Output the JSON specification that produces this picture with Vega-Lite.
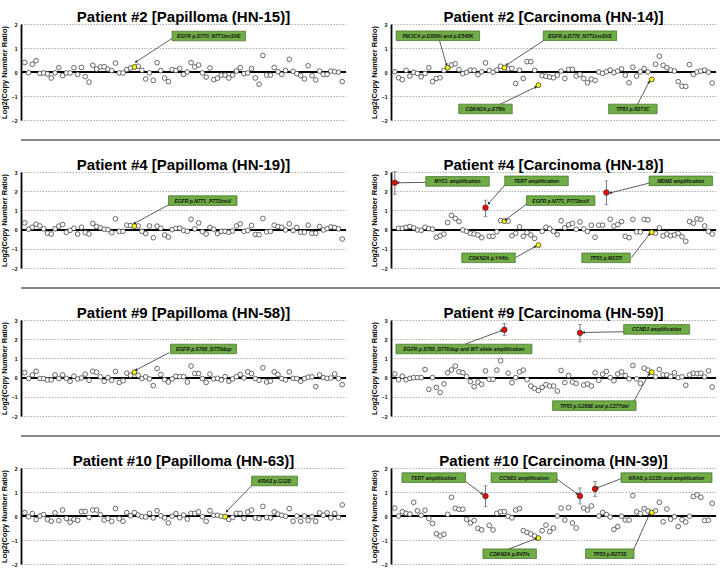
{
"$schema": "https://vega.github.io/schema/vega-lite/v6.json",
"padding": {"left": 0, "top": 9, "right": 0, "bottom": 0},
"background": "white",
"config": {
  "view": {"stroke": null},
  "font": "Liberation Sans",
  "title": {"font": "Liberation Sans", "fontSize": 15, "fontWeight": "bold", "color": "black", "offset": -2.8},
  "axis": {"labelFont": "Liberation Sans", "labelFontSize": 5, "labelFontWeight": "bold", "labelColor": "black", "labelPadding": 4, "ticks": false, "tickSize": 0, "domainColor": "black", "domainWidth": 1.8, "grid": true, "gridColor": "#999", "gridDash": [1.5, 1.5], "gridWidth": 0.8, "titleFont": "Liberation Sans", "titleFontSize": 7.5, "titleFontWeight": "bold", "titleColor": "black", "titlePadding": 3}
},
"datasets": {
"p1": [{"i":1,"v":0.40},{"i":2,"v":-0.03},{"i":3,"v":0.32},{"i":4,"v":0.47},{"i":5,"v":-0.06},{"i":6,"v":-0.04},{"i":7,"v":-0.08},{"i":8,"v":-0.25},{"i":9,"v":-0.04},{"i":10,"v":0.18},{"i":11,"v":-0.15},{"i":12,"v":-0.04},{"i":13,"v":-0.04},{"i":14,"v":0.18},{"i":15,"v":-0.10},{"i":16,"v":0.19},{"i":17,"v":-0.19},{"i":18,"v":-0.42},{"i":19,"v":0.28},{"i":20,"v":0.12},{"i":21,"v":0.21},{"i":22,"v":0.22},{"i":23,"v":0.12},{"i":24,"v":0.06},{"i":25,"v":0.37},{"i":26,"v":-0.04},{"i":27,"v":-0.04},{"i":28,"v":0.10},{"i":29,"v":0.17},{"i":30,"v":0.21,"k":"m"},{"i":31,"v":0.24},{"i":32,"v":0.07},{"i":33,"v":-0.29},{"i":34,"v":-0.04},{"i":35,"v":-0.35},{"i":36,"v":0.39},{"i":37,"v":0.06},{"i":38,"v":-0.25},{"i":39,"v":-0.40},{"i":40,"v":0.10},{"i":41,"v":0.06},{"i":42,"v":0.15},{"i":43,"v":-0.10},{"i":44,"v":0.00},{"i":45,"v":0.39},{"i":46,"v":0.21},{"i":47,"v":0.29},{"i":48,"v":-0.04},{"i":49,"v":-0.21},{"i":50,"v":0.17},{"i":51,"v":-0.32},{"i":52,"v":-0.26},{"i":53,"v":-0.13},{"i":54,"v":-0.13},{"i":55,"v":-0.25},{"i":56,"v":-0.13},{"i":57,"v":0.04},{"i":58,"v":0.18},{"i":59,"v":-0.07},{"i":60,"v":-0.04},{"i":61,"v":0.14},{"i":62,"v":-0.25},{"i":63,"v":-0.51},{"i":64,"v":0.69},{"i":65,"v":-0.13},{"i":66,"v":-0.13},{"i":67,"v":0.19},{"i":68,"v":0.01},{"i":69,"v":-0.10},{"i":70,"v":0.06},{"i":71,"v":0.53},{"i":72,"v":0.03},{"i":73,"v":-0.07},{"i":74,"v":-0.15},{"i":75,"v":-0.29},{"i":76,"v":0.26},{"i":77,"v":-0.15},{"i":78,"v":-0.33},{"i":79,"v":0.04},{"i":80,"v":-0.10},{"i":81,"v":-0.10},{"i":82,"v":0.04},{"i":83,"v":0.01},{"i":84,"v":-0.01},{"i":85,"v":-0.40}],
"p2": [{"i":1,"v":0.01},{"i":2,"v":-0.24},{"i":3,"v":-0.32},{"i":4,"v":0.07},{"i":5,"v":-0.17},{"i":6,"v":-0.01},{"i":7,"v":-0.06},{"i":8,"v":-0.20},{"i":9,"v":-0.06},{"i":10,"v":0.18},{"i":11,"v":-0.40},{"i":12,"v":-0.27},{"i":13,"v":-0.24},{"i":14,"v":0.06},{"i":15,"v":0.18,"k":"m"},{"i":16,"v":0.29},{"i":17,"v":0.34},{"i":18,"v":0.10},{"i":19,"v":-0.07},{"i":20,"v":-0.01},{"i":21,"v":0.08},{"i":22,"v":0.07},{"i":23,"v":-0.11},{"i":24,"v":0.01},{"i":25,"v":0.38},{"i":26,"v":0.06},{"i":27,"v":-0.01},{"i":28,"v":0.08},{"i":29,"v":0.24},{"i":30,"v":0.18,"k":"m"},{"i":31,"v":0.13},{"i":32,"v":0.15},{"i":33,"v":-0.48},{"i":34,"v":0.08},{"i":35,"v":-0.27},{"i":36,"v":0.43},{"i":37,"v":0.43},{"i":38,"v":0.07},{"i":39,"v":-0.55,"k":"m"},{"i":40,"v":-0.15},{"i":41,"v":-0.18},{"i":42,"v":-0.21},{"i":43,"v":-0.24},{"i":44,"v":-0.13},{"i":45,"v":0.04},{"i":46,"v":-0.27},{"i":47,"v":0.11},{"i":48,"v":0.11},{"i":49,"v":-0.17},{"i":50,"v":-0.10},{"i":51,"v":-0.27},{"i":52,"v":-0.45},{"i":53,"v":-0.29},{"i":54,"v":-0.35},{"i":55,"v":0.00},{"i":56,"v":-0.06},{"i":57,"v":0.01},{"i":58,"v":0.08},{"i":59,"v":-0.03},{"i":60,"v":0.04},{"i":61,"v":0.13},{"i":62,"v":-0.13},{"i":63,"v":-0.45},{"i":64,"v":0.20},{"i":65,"v":-0.17},{"i":66,"v":0.01},{"i":67,"v":0.14},{"i":68,"v":0.00},{"i":69,"v":-0.31,"k":"m"},{"i":70,"v":0.32},{"i":71,"v":0.66},{"i":72,"v":0.28},{"i":73,"v":0.18},{"i":74,"v":0.08},{"i":75,"v":0.04},{"i":76,"v":-0.40},{"i":77,"v":-0.59},{"i":78,"v":-0.60},{"i":79,"v":0.31},{"i":80,"v":-0.10},{"i":81,"v":0.00},{"i":82,"v":0.04},{"i":83,"v":0.08},{"i":84,"v":-0.01},{"i":85,"v":-0.46}],
"p3": [{"i":1,"v":0.35},{"i":2,"v":0.02},{"i":3,"v":0.12},{"i":4,"v":0.28},{"i":5,"v":0.19},{"i":6,"v":0.04},{"i":7,"v":-0.19},{"i":8,"v":-0.23},{"i":9,"v":0.04},{"i":10,"v":0.18},{"i":11,"v":0.26},{"i":12,"v":-0.14},{"i":13,"v":-0.04},{"i":14,"v":0.07},{"i":15,"v":-0.23},{"i":16,"v":0.12},{"i":17,"v":-0.16},{"i":18,"v":-0.23},{"i":19,"v":0.32},{"i":20,"v":0.16},{"i":21,"v":0.09},{"i":22,"v":0.02},{"i":23,"v":0.00},{"i":24,"v":-0.16},{"i":25,"v":0.56},{"i":26,"v":-0.09},{"i":27,"v":-0.09},{"i":28,"v":0.23},{"i":29,"v":0.21},{"i":30,"v":0.18,"k":"m"},{"i":31,"v":0.19},{"i":32,"v":-0.09},{"i":33,"v":-0.21},{"i":34,"v":0.19},{"i":35,"v":-0.42},{"i":36,"v":0.18},{"i":37,"v":0.07},{"i":38,"v":-0.28},{"i":39,"v":-0.39},{"i":40,"v":0.00},{"i":41,"v":0.07},{"i":42,"v":0.07},{"i":43,"v":-0.04},{"i":44,"v":-0.09},{"i":45,"v":0.54},{"i":46,"v":0.04},{"i":47,"v":0.35},{"i":48,"v":-0.11},{"i":49,"v":-0.23},{"i":50,"v":0.11},{"i":51,"v":0.02},{"i":52,"v":-0.21},{"i":53,"v":-0.09},{"i":54,"v":-0.09},{"i":55,"v":-0.14},{"i":56,"v":-0.07},{"i":57,"v":0.19},{"i":58,"v":0.30},{"i":59,"v":-0.09},{"i":60,"v":-0.04},{"i":61,"v":0.21},{"i":62,"v":-0.25},{"i":63,"v":-0.26},{"i":64,"v":0.58},{"i":65,"v":-0.12},{"i":66,"v":-0.09},{"i":67,"v":0.23},{"i":68,"v":0.16},{"i":69,"v":0.12},{"i":70,"v":-0.02},{"i":71,"v":0.30},{"i":72,"v":-0.05},{"i":73,"v":0.11},{"i":74,"v":-0.14},{"i":75,"v":-0.14},{"i":76,"v":0.23},{"i":77,"v":-0.19},{"i":78,"v":-0.19},{"i":79,"v":0.16},{"i":80,"v":-0.02},{"i":81,"v":0.05},{"i":82,"v":0.14},{"i":83,"v":0.11},{"i":84,"v":0.04},{"i":85,"v":-0.49}],
"p4": [{"i":1,"v":2.44,"k":"a","lo":1.84,"hi":3.02},{"i":2,"v":0.07},{"i":3,"v":0.07},{"i":4,"v":0.12},{"i":5,"v":0.16},{"i":6,"v":0.09},{"i":7,"v":-0.02},{"i":8,"v":-0.04},{"i":9,"v":0.12},{"i":10,"v":0.05},{"i":11,"v":0.02},{"i":12,"v":-0.40},{"i":13,"v":-0.32},{"i":14,"v":-0.23},{"i":15,"v":0.37},{"i":16,"v":0.74},{"i":17,"v":0.58},{"i":18,"v":0.42},{"i":19,"v":-0.02},{"i":20,"v":-0.09},{"i":21,"v":-0.19},{"i":22,"v":-0.23},{"i":23,"v":-0.28},{"i":24,"v":-0.42},{"i":25,"v":1.14,"k":"a","lo":0.68,"hi":1.53},{"i":26,"v":-0.35},{"i":27,"v":-0.35},{"i":28,"v":-0.11},{"i":29,"v":0.47},{"i":30,"v":0.44,"k":"m"},{"i":31,"v":0.44},{"i":32,"v":-0.32},{"i":33,"v":-0.19},{"i":34,"v":0.14},{"i":35,"v":-0.35},{"i":36,"v":-0.16},{"i":37,"v":-0.28},{"i":38,"v":-0.46},{"i":39,"v":-0.81,"k":"m"},{"i":40,"v":-0.09},{"i":41,"v":0.12},{"i":42,"v":0.05},{"i":43,"v":-0.09},{"i":44,"v":-0.26},{"i":45,"v":0.46},{"i":46,"v":0.09},{"i":47,"v":0.25},{"i":48,"v":0.32},{"i":49,"v":0.02},{"i":50,"v":0.40},{"i":51,"v":0.04},{"i":52,"v":-0.09},{"i":53,"v":0.23},{"i":54,"v":-0.40},{"i":55,"v":0.23},{"i":56,"v":0.23},{"i":57,"v":1.93,"k":"a","lo":1.30,"hi":2.54},{"i":58,"v":0.54},{"i":59,"v":0.18},{"i":60,"v":0.26},{"i":61,"v":0.42},{"i":62,"v":-0.35},{"i":63,"v":-0.42},{"i":64,"v":0.53},{"i":65,"v":-0.12},{"i":66,"v":-0.12},{"i":67,"v":0.53},{"i":68,"v":0.51},{"i":69,"v":-0.14,"k":"m"},{"i":70,"v":-0.19},{"i":71,"v":0.09},{"i":72,"v":-0.33},{"i":73,"v":-0.23},{"i":74,"v":-0.32},{"i":75,"v":-0.28},{"i":76,"v":-0.19},{"i":77,"v":-0.37},{"i":78,"v":-0.61},{"i":79,"v":0.42},{"i":80,"v":0.33},{"i":81,"v":0.56},{"i":82,"v":0.53},{"i":83,"v":0.19},{"i":84,"v":-0.09},{"i":85,"v":-0.23}],
"p5": [{"i":1,"v":0.26},{"i":2,"v":-0.05},{"i":3,"v":0.14},{"i":4,"v":0.33},{"i":5,"v":-0.05},{"i":6,"v":-0.05},{"i":7,"v":-0.12},{"i":8,"v":-0.12},{"i":9,"v":0.14},{"i":10,"v":-0.05},{"i":11,"v":0.14},{"i":12,"v":-0.04},{"i":13,"v":-0.19},{"i":14,"v":0.07},{"i":15,"v":-0.07},{"i":16,"v":-0.02},{"i":17,"v":0.18},{"i":18,"v":-0.14},{"i":19,"v":0.33},{"i":20,"v":0.28},{"i":21,"v":0.04},{"i":22,"v":-0.19},{"i":23,"v":0.00},{"i":24,"v":-0.14},{"i":25,"v":0.32},{"i":26,"v":-0.25},{"i":27,"v":-0.16},{"i":28,"v":0.23},{"i":29,"v":0.12},{"i":30,"v":0.28,"k":"m"},{"i":31,"v":0.12},{"i":32,"v":-0.05},{"i":33,"v":0.04},{"i":34,"v":-0.07},{"i":35,"v":-0.42},{"i":36,"v":0.47},{"i":37,"v":0.16},{"i":38,"v":-0.11},{"i":39,"v":-0.23},{"i":40,"v":-0.07},{"i":41,"v":0.07},{"i":42,"v":0.05},{"i":43,"v":0.05},{"i":44,"v":-0.23},{"i":45,"v":0.60},{"i":46,"v":0.21},{"i":47,"v":0.21},{"i":48,"v":-0.05},{"i":49,"v":-0.25},{"i":50,"v":0.18},{"i":51,"v":-0.07},{"i":52,"v":-0.04},{"i":53,"v":-0.12},{"i":54,"v":0.05},{"i":55,"v":-0.19},{"i":56,"v":-0.07},{"i":57,"v":0.05},{"i":58,"v":0.16},{"i":59,"v":-0.02},{"i":60,"v":0.30},{"i":61,"v":0.21},{"i":62,"v":-0.05},{"i":63,"v":-0.14},{"i":64,"v":0.51},{"i":65,"v":-0.23},{"i":66,"v":-0.18},{"i":67,"v":0.30},{"i":68,"v":0.16},{"i":69,"v":-0.05},{"i":70,"v":-0.12},{"i":71,"v":0.30},{"i":72,"v":-0.04},{"i":73,"v":-0.05},{"i":74,"v":-0.19},{"i":75,"v":-0.05},{"i":76,"v":0.02},{"i":77,"v":0.04},{"i":78,"v":-0.47},{"i":79,"v":0.14},{"i":80,"v":0.00},{"i":81,"v":-0.04},{"i":82,"v":-0.02},{"i":83,"v":0.19},{"i":84,"v":-0.05},{"i":85,"v":-0.37}],
"p6": [{"i":1,"v":0.19},{"i":2,"v":-0.11},{"i":3,"v":0.07},{"i":4,"v":-0.11},{"i":5,"v":-0.04},{"i":6,"v":0.00},{"i":7,"v":0.00},{"i":8,"v":0.00},{"i":9,"v":0.42},{"i":10,"v":-0.61},{"i":11,"v":0.00},{"i":12,"v":-0.51},{"i":13,"v":-0.77},{"i":14,"v":-0.33},{"i":15,"v":0.25},{"i":16,"v":0.40},{"i":17,"v":0.60},{"i":18,"v":0.30},{"i":19,"v":0.26},{"i":20,"v":0.05},{"i":21,"v":-0.21},{"i":22,"v":-0.47},{"i":23,"v":-0.23},{"i":24,"v":-0.35},{"i":25,"v":0.35},{"i":26,"v":-0.09},{"i":27,"v":-0.09},{"i":28,"v":0.39},{"i":29,"v":0.88},{"i":30,"v":2.49,"k":"a","lo":2.19,"hi":2.81},{"i":31,"v":0.23},{"i":32,"v":-0.26},{"i":33,"v":0.00},{"i":34,"v":0.30},{"i":35,"v":0.39},{"i":36,"v":-0.11},{"i":37,"v":-0.44},{"i":38,"v":-0.56},{"i":39,"v":-0.67},{"i":40,"v":-0.51},{"i":41,"v":-0.37},{"i":42,"v":-0.44},{"i":43,"v":-0.44},{"i":44,"v":-0.70},{"i":45,"v":0.37},{"i":46,"v":-0.26},{"i":47,"v":0.11},{"i":48,"v":-0.23},{"i":49,"v":-0.30},{"i":50,"v":2.33,"k":"a","lo":1.86,"hi":2.77},{"i":51,"v":-0.39},{"i":52,"v":-0.33},{"i":53,"v":-0.44},{"i":54,"v":0.25},{"i":55,"v":-0.14},{"i":56,"v":0.18},{"i":57,"v":0.32},{"i":58,"v":0.00},{"i":59,"v":-0.16},{"i":60,"v":0.19},{"i":61,"v":0.30},{"i":62,"v":0.11},{"i":63,"v":-0.07},{"i":64,"v":0.63},{"i":65,"v":-0.07},{"i":66,"v":-0.30},{"i":67,"v":0.49},{"i":68,"v":0.39},{"i":69,"v":0.28,"k":"m"},{"i":70,"v":0.04},{"i":71,"v":0.42},{"i":72,"v":0.14},{"i":73,"v":0.14},{"i":74,"v":0.05},{"i":75,"v":0.25},{"i":76,"v":0.00},{"i":77,"v":0.04},{"i":78,"v":-0.40},{"i":79,"v":0.14},{"i":80,"v":0.23},{"i":81,"v":0.21},{"i":82,"v":0.23},{"i":83,"v":0.04},{"i":84,"v":0.35},{"i":85,"v":-0.49}],
"p7": [{"i":1,"v":0.14},{"i":2,"v":-0.03},{"i":3,"v":0.10},{"i":4,"v":-0.15},{"i":5,"v":0.00},{"i":6,"v":0.06},{"i":7,"v":-0.14},{"i":8,"v":-0.22},{"i":9,"v":0.13},{"i":10,"v":-0.19},{"i":11,"v":0.25},{"i":12,"v":-0.10},{"i":13,"v":-0.26},{"i":14,"v":-0.13},{"i":15,"v":-0.18},{"i":16,"v":0.18},{"i":17,"v":0.19},{"i":18,"v":-0.06},{"i":19,"v":0.25},{"i":20,"v":0.25},{"i":21,"v":0.06},{"i":22,"v":-0.17},{"i":23,"v":-0.10},{"i":24,"v":-0.22},{"i":25,"v":0.31},{"i":26,"v":-0.11},{"i":27,"v":-0.22},{"i":28,"v":0.14},{"i":29,"v":0.01},{"i":30,"v":0.14},{"i":31,"v":0.04},{"i":32,"v":-0.03},{"i":33,"v":-0.04},{"i":34,"v":0.11},{"i":35,"v":-0.08},{"i":36,"v":0.22},{"i":37,"v":0.01},{"i":38,"v":-0.08},{"i":39,"v":-0.29},{"i":40,"v":-0.01},{"i":41,"v":0.10},{"i":42,"v":-0.07},{"i":43,"v":0.04},{"i":44,"v":-0.13},{"i":45,"v":0.11},{"i":46,"v":0.11},{"i":47,"v":0.17},{"i":48,"v":-0.03},{"i":49,"v":-0.22},{"i":50,"v":0.22},{"i":51,"v":0.03},{"i":52,"v":0.03},{"i":53,"v":-0.01},{"i":54,"v":-0.03,"k":"m"},{"i":55,"v":-0.14},{"i":56,"v":-0.06},{"i":57,"v":0.11},{"i":58,"v":0.11},{"i":59,"v":-0.10},{"i":60,"v":0.17},{"i":61,"v":0.25},{"i":62,"v":-0.08},{"i":63,"v":-0.10},{"i":64,"v":0.40},{"i":65,"v":-0.06},{"i":66,"v":-0.08},{"i":67,"v":0.17},{"i":68,"v":0.08},{"i":69,"v":0.03},{"i":70,"v":-0.01},{"i":71,"v":0.31},{"i":72,"v":-0.22},{"i":73,"v":0.00},{"i":74,"v":-0.22},{"i":75,"v":0.00},{"i":76,"v":-0.19},{"i":77,"v":-0.03},{"i":78,"v":-0.22},{"i":79,"v":0.13},{"i":80,"v":0.03},{"i":81,"v":0.13},{"i":82,"v":-0.08},{"i":83,"v":0.11},{"i":84,"v":-0.06},{"i":85,"v":0.46}],
"p8": [{"i":1,"v":0.33},{"i":2,"v":0.00},{"i":3,"v":0.18},{"i":4,"v":0.11},{"i":5,"v":0.08},{"i":6,"v":0.57},{"i":7,"v":0.22},{"i":8,"v":0.03},{"i":9,"v":0.24},{"i":10,"v":-0.11},{"i":11,"v":-0.31},{"i":12,"v":-0.74},{"i":13,"v":-0.83},{"i":14,"v":-0.76},{"i":15,"v":0.07},{"i":16,"v":0.78},{"i":17,"v":0.32},{"i":18,"v":0.28},{"i":19,"v":0.28},{"i":20,"v":-0.14},{"i":21,"v":-0.29},{"i":22,"v":-0.19},{"i":23,"v":-0.51},{"i":24,"v":-0.58},{"i":25,"v":0.83,"k":"a","lo":0.39,"hi":1.26},{"i":26,"v":-0.39},{"i":27,"v":-0.58},{"i":28,"v":0.11},{"i":29,"v":0.18},{"i":30,"v":0.18},{"i":31,"v":-0.01},{"i":32,"v":-0.08},{"i":33,"v":0.25},{"i":34,"v":0.31},{"i":35,"v":-0.61},{"i":36,"v":-0.68},{"i":37,"v":-0.75},{"i":38,"v":-0.83},{"i":39,"v":-0.92,"k":"m"},{"i":40,"v":-0.61},{"i":41,"v":-0.38},{"i":42,"v":-0.65},{"i":43,"v":-0.50},{"i":44,"v":0.00},{"i":45,"v":0.33},{"i":46,"v":-0.17},{"i":47,"v":0.35},{"i":48,"v":-0.29},{"i":49,"v":-0.50},{"i":50,"v":0.83,"k":"a","lo":0.50,"hi":1.17},{"i":51,"v":0.33},{"i":52,"v":0.25},{"i":53,"v":0.42},{"i":54,"v":1.13,"k":"a","lo":0.81,"hi":1.44},{"i":55,"v":0.00},{"i":56,"v":0.15},{"i":57,"v":0.06},{"i":58,"v":-0.04},{"i":59,"v":-0.56},{"i":60,"v":-0.44},{"i":61,"v":-0.01},{"i":62,"v":-0.17},{"i":63,"v":-0.17},{"i":64,"v":0.85},{"i":65,"v":0.18},{"i":66,"v":0.10},{"i":67,"v":0.31},{"i":68,"v":0.21},{"i":69,"v":0.14,"k":"m"},{"i":70,"v":0.22},{"i":71,"v":0.57},{"i":72,"v":-0.24},{"i":73,"v":0.29},{"i":74,"v":-0.13},{"i":75,"v":-0.03},{"i":76,"v":-0.44},{"i":77,"v":-0.15},{"i":78,"v":-0.25},{"i":79,"v":-0.01},{"i":80,"v":0.81},{"i":81,"v":0.88},{"i":82,"v":0.78},{"i":83,"v":-0.19},{"i":84,"v":-0.18},{"i":85,"v":0.53}],
"a1": [{"t":"EGFR p.D770_N771insSVE","bx":49.7,"by":1.5,"sx":40.2,"sy":1.42,"ex":30.4,"ey":0.42}],
"a2": [{"t":"PIK3CA p.D350H and p.E545K","bx":12.4,"by":1.51,"sx":12.8,"sy":1.33,"ex":14.7,"ey":0.3},{"t":"EGFR p.D770_N771insSVE","bx":50.0,"by":1.51,"sx":40.6,"sy":1.33,"ex":30.6,"ey":0.3},{"t":"CDKN2A p.E75fs","bx":25.0,"by":-1.54,"sx":28.7,"sy":-1.36,"ex":38.4,"ey":-0.62},{"t":"TP53 p.R273C","bx":64.0,"by":-1.54,"sx":65.2,"sy":-1.36,"ex":68.3,"ey":-0.41}],
"a3": [{"t":"EGFR p.N771_P772insV","bx":48.1,"by":1.51,"sx":39.2,"sy":1.3,"ex":30.0,"ey":0.33}],
"a4": [{"t":"MYCL amplification","bx":17.6,"by":2.51,"sx":9.5,"sy":2.46,"ex":1.8,"ey":2.44},{"t":"TERT amplification","bx":38.5,"by":2.54,"sx":30.9,"sy":2.49,"ex":25.8,"ey":1.35},{"t":"EGFR p.N771_P772insV","bx":44.9,"by":1.51,"sx":36.0,"sy":1.35,"ex":30.3,"ey":0.51},{"t":"MDM2 amplification","bx":76.7,"by":2.54,"sx":68.7,"sy":2.44,"ex":58.0,"ey":1.91},{"t":"CDKN2A p.Y44fs","bx":25.8,"by":-1.47,"sx":32.9,"sy":-1.46,"ex":38.2,"ey":-0.88},{"t":"TP53 p.M237I","bx":56.9,"by":-1.47,"sx":63.6,"sy":-1.46,"ex":68.4,"ey":-0.23}],
"a5": [{"t":"EGFR p.S768_D770dup","bx":48.3,"by":1.49,"sx":39.2,"sy":1.3,"ex":30.4,"ey":0.39}],
"a6": [{"t":"EGFR p.S768_D770dup and WT allele amplification","bx":19.3,"by":1.49,"sx":19.6,"sy":1.74,"ex":29.3,"ey":2.45},{"t":"CCND1 amplification","bx":70.3,"by":2.51,"sx":61.9,"sy":2.39,"ex":50.9,"ey":2.35},{"t":"TP53 p.G266E and p.C277del","bx":53.8,"by":-1.46,"sx":63.9,"sy":-1.35,"ex":68.3,"ey":0.19}],
"a7": [{"t":"KRAS p.G12D","bx":67.1,"by":1.46,"sx":61.3,"sy":1.31,"ex":54.4,"ey":0.19}],
"a8": [{"t":"TERT amplification","bx":11.3,"by":1.6,"sx":18.5,"sy":1.58,"ex":24.1,"ey":0.92},{"t":"CCND1 amplification","bx":35.2,"by":1.6,"sx":43.5,"sy":1.58,"ex":49.3,"ey":0.92},{"t":"KRAS p.G12D and amplification","bx":72.9,"by":1.6,"sx":61.3,"sy":1.58,"ex":54.5,"ey":1.17},{"t":"CDKN2A p.R47fs","bx":31.4,"by":-1.57,"sx":31.1,"sy":-1.38,"ex":38.4,"ey":-0.94},{"t":"TP53 p.R273S","bx":57.9,"by":-1.57,"sx":64.0,"sy":-1.47,"ex":68.4,"ey":0.08}],
"sep": [{"z": 0}]
},
"vconcat": [
{"hconcat": [
 {"title": "Patient #2 [Papilloma (HN-15)]", "width": 325, "height": 96, "layer": [
  {"data": {"name": "p1"}, "mark": {"type": "rule", "color": "black", "strokeWidth": 1.3}, "encoding": {"y": {"datum": 0, "type": "quantitative", "scale": {"domain": [-2, 2], "nice": false}, "axis": {"values": [-2, -1, 0, 1, 2]}, "title": "Log2(Copy Number Ratio)"}}},
  {"data": {"name": "p1"}, "transform": [{"filter": "!datum.k"}], "mark": {"type": "circle", "fill": "white", "stroke": "#444", "strokeWidth": 0.8, "size": 22, "opacity": 1}, "encoding": {"x": {"field": "i", "type": "quantitative", "scale": {"domain": [0, 86], "nice": false, "zero": false}, "axis": null}, "y": {"field": "v", "type": "quantitative", "scale": {"domain": [-2, 2], "nice": false}, "axis": {"values": [-2, -1, 0, 1, 2]}, "title": "Log2(Copy Number Ratio)"}}},
  {"data": {"name": "p1"}, "transform": [{"filter": "datum.k"}], "mark": {"type": "circle", "stroke": "#333", "strokeWidth": 0.8, "opacity": 1}, "encoding": {"x": {"field": "i", "type": "quantitative", "scale": {"domain": [0, 86], "nice": false, "zero": false}, "axis": null}, "y": {"field": "v", "type": "quantitative", "scale": {"domain": [-2, 2], "nice": false}, "axis": {"values": [-2, -1, 0, 1, 2]}, "title": "Log2(Copy Number Ratio)"}, "fill": {"field": "k", "type": "nominal", "scale": {"domain": ["m", "a"], "range": ["#ffff00", "#ff0000"]}, "legend": null}, "size": {"field": "k", "type": "nominal", "scale": {"domain": ["m", "a"], "range": [24, 30]}, "legend": null}}},
  {"data": {"name": "a1"}, "mark": {"type": "rule", "color": "#333", "strokeWidth": 0.8}, "encoding": {"x": {"field": "sx", "type": "quantitative", "scale": {"domain": [0, 86], "nice": false, "zero": false}, "axis": null}, "y": {"field": "sy", "type": "quantitative", "scale": {"domain": [-2, 2], "nice": false}, "axis": {"values": [-2, -1, 0, 1, 2]}, "title": "Log2(Copy Number Ratio)"}, "x2": {"field": "ex"}, "y2": {"field": "ey"}}},
  {"data": {"name": "a1"}, "transform": [{"calculate": "atan2((datum.ex-datum.sx)*3.78,(datum.ey-datum.sy)*24)*180/PI", "as": "ang"}], "mark": {"type": "point", "shape": "triangle-up", "filled": true, "color": "#333", "size": 10, "opacity": 1}, "encoding": {"x": {"field": "ex", "type": "quantitative", "scale": {"domain": [0, 86], "nice": false, "zero": false}, "axis": null}, "y": {"field": "ey", "type": "quantitative", "scale": {"domain": [-2, 2], "nice": false}, "axis": {"values": [-2, -1, 0, 1, 2]}, "title": "Log2(Copy Number Ratio)"}, "angle": {"field": "ang", "type": "quantitative", "scale": null}}},
  {"data": {"name": "a1"}, "transform": [{"calculate": "(9.25+1.25*length(datum.t))/3.78", "as": "hw"}, {"calculate": "datum.bx-datum.hw", "as": "x1"}, {"calculate": "datum.bx+datum.hw", "as": "x2"}, {"calculate": "datum.by-0.2", "as": "y1"}, {"calculate": "datum.by+0.2", "as": "y2"}], "mark": {"type": "rect", "fill": "#70AD47", "stroke": "#3E6B24", "strokeWidth": 0.7}, "encoding": {"x": {"field": "x1", "type": "quantitative", "scale": {"domain": [0, 86], "nice": false, "zero": false}, "axis": null}, "x2": {"field": "x2"}, "y": {"field": "y1", "type": "quantitative", "scale": {"domain": [-2, 2], "nice": false}, "axis": {"values": [-2, -1, 0, 1, 2]}, "title": "Log2(Copy Number Ratio)"}, "y2": {"field": "y2"}}},
  {"data": {"name": "a1"}, "mark": {"type": "text", "font": "Liberation Sans", "fontSize": 5, "fontStyle": "italic", "fontWeight": "bold", "color": "#111"}, "encoding": {"x": {"field": "bx", "type": "quantitative", "scale": {"domain": [0, 86], "nice": false, "zero": false}, "axis": null}, "y": {"field": "by", "type": "quantitative", "scale": {"domain": [-2, 2], "nice": false}, "axis": {"values": [-2, -1, 0, 1, 2]}, "title": "Log2(Copy Number Ratio)"}, "text": {"field": "t"}}}
 ]},
 {"title": "Patient #2 [Carcinoma (HN-14)]", "width": 325, "height": 96, "layer": [
  {"data": {"name": "p2"}, "mark": {"type": "rule", "color": "black", "strokeWidth": 1.3}, "encoding": {"y": {"datum": 0, "type": "quantitative", "scale": {"domain": [-2, 2], "nice": false}, "axis": {"values": [-2, -1, 0, 1, 2]}, "title": "Log2(Copy Number Ratio)"}}},
  {"data": {"name": "p2"}, "transform": [{"filter": "!datum.k"}], "mark": {"type": "circle", "fill": "white", "stroke": "#444", "strokeWidth": 0.8, "size": 22, "opacity": 1}, "encoding": {"x": {"field": "i", "type": "quantitative", "scale": {"domain": [0, 86], "nice": false, "zero": false}, "axis": null}, "y": {"field": "v", "type": "quantitative", "scale": {"domain": [-2, 2], "nice": false}, "axis": {"values": [-2, -1, 0, 1, 2]}, "title": "Log2(Copy Number Ratio)"}}},
  {"data": {"name": "p2"}, "transform": [{"filter": "datum.k"}], "mark": {"type": "circle", "stroke": "#333", "strokeWidth": 0.8, "opacity": 1}, "encoding": {"x": {"field": "i", "type": "quantitative", "scale": {"domain": [0, 86], "nice": false, "zero": false}, "axis": null}, "y": {"field": "v", "type": "quantitative", "scale": {"domain": [-2, 2], "nice": false}, "axis": {"values": [-2, -1, 0, 1, 2]}, "title": "Log2(Copy Number Ratio)"}, "fill": {"field": "k", "type": "nominal", "scale": {"domain": ["m", "a"], "range": ["#ffff00", "#ff0000"]}, "legend": null}, "size": {"field": "k", "type": "nominal", "scale": {"domain": ["m", "a"], "range": [24, 30]}, "legend": null}}},
  {"data": {"name": "a2"}, "mark": {"type": "rule", "color": "#333", "strokeWidth": 0.8}, "encoding": {"x": {"field": "sx", "type": "quantitative", "scale": {"domain": [0, 86], "nice": false, "zero": false}, "axis": null}, "y": {"field": "sy", "type": "quantitative", "scale": {"domain": [-2, 2], "nice": false}, "axis": {"values": [-2, -1, 0, 1, 2]}, "title": "Log2(Copy Number Ratio)"}, "x2": {"field": "ex"}, "y2": {"field": "ey"}}},
  {"data": {"name": "a2"}, "transform": [{"calculate": "atan2((datum.ex-datum.sx)*3.78,(datum.ey-datum.sy)*24)*180/PI", "as": "ang"}], "mark": {"type": "point", "shape": "triangle-up", "filled": true, "color": "#333", "size": 10, "opacity": 1}, "encoding": {"x": {"field": "ex", "type": "quantitative", "scale": {"domain": [0, 86], "nice": false, "zero": false}, "axis": null}, "y": {"field": "ey", "type": "quantitative", "scale": {"domain": [-2, 2], "nice": false}, "axis": {"values": [-2, -1, 0, 1, 2]}, "title": "Log2(Copy Number Ratio)"}, "angle": {"field": "ang", "type": "quantitative", "scale": null}}},
  {"data": {"name": "a2"}, "transform": [{"calculate": "(9.25+1.25*length(datum.t))/3.78", "as": "hw"}, {"calculate": "datum.bx-datum.hw", "as": "x1"}, {"calculate": "datum.bx+datum.hw", "as": "x2"}, {"calculate": "datum.by-0.2", "as": "y1"}, {"calculate": "datum.by+0.2", "as": "y2"}], "mark": {"type": "rect", "fill": "#70AD47", "stroke": "#3E6B24", "strokeWidth": 0.7}, "encoding": {"x": {"field": "x1", "type": "quantitative", "scale": {"domain": [0, 86], "nice": false, "zero": false}, "axis": null}, "x2": {"field": "x2"}, "y": {"field": "y1", "type": "quantitative", "scale": {"domain": [-2, 2], "nice": false}, "axis": {"values": [-2, -1, 0, 1, 2]}, "title": "Log2(Copy Number Ratio)"}, "y2": {"field": "y2"}}},
  {"data": {"name": "a2"}, "mark": {"type": "text", "font": "Liberation Sans", "fontSize": 5, "fontStyle": "italic", "fontWeight": "bold", "color": "#111"}, "encoding": {"x": {"field": "bx", "type": "quantitative", "scale": {"domain": [0, 86], "nice": false, "zero": false}, "axis": null}, "y": {"field": "by", "type": "quantitative", "scale": {"domain": [-2, 2], "nice": false}, "axis": {"values": [-2, -1, 0, 1, 2]}, "title": "Log2(Copy Number Ratio)"}, "text": {"field": "t"}}}
 ]}
], "spacing": 23},
{"data": {"name": "sep"}, "width": 720, "height": 1, "mark": {"type": "rule", "color": "#888", "strokeWidth": 2}, "encoding": {"y": {"field": "z", "type": "quantitative", "scale": {"domain": [-1, 1]}, "axis": null}}},
{"hconcat": [
 {"title": "Patient #4 [Papilloma (HN-19)]", "width": 325, "height": 96, "layer": [
  {"data": {"name": "p3"}, "mark": {"type": "rule", "color": "black", "strokeWidth": 1.3}, "encoding": {"y": {"datum": 0, "type": "quantitative", "scale": {"domain": [-2, 3], "nice": false}, "axis": {"values": [-2, -1, 0, 1, 2, 3]}, "title": "Log2(Copy Number Ratio)"}}},
  {"data": {"name": "p3"}, "transform": [{"filter": "!datum.k"}], "mark": {"type": "circle", "fill": "white", "stroke": "#444", "strokeWidth": 0.8, "size": 22, "opacity": 1}, "encoding": {"x": {"field": "i", "type": "quantitative", "scale": {"domain": [0, 86], "nice": false, "zero": false}, "axis": null}, "y": {"field": "v", "type": "quantitative", "scale": {"domain": [-2, 3], "nice": false}, "axis": {"values": [-2, -1, 0, 1, 2, 3]}, "title": "Log2(Copy Number Ratio)"}}},
  {"data": {"name": "p3"}, "transform": [{"filter": "datum.k"}], "mark": {"type": "circle", "stroke": "#333", "strokeWidth": 0.8, "opacity": 1}, "encoding": {"x": {"field": "i", "type": "quantitative", "scale": {"domain": [0, 86], "nice": false, "zero": false}, "axis": null}, "y": {"field": "v", "type": "quantitative", "scale": {"domain": [-2, 3], "nice": false}, "axis": {"values": [-2, -1, 0, 1, 2, 3]}, "title": "Log2(Copy Number Ratio)"}, "fill": {"field": "k", "type": "nominal", "scale": {"domain": ["m", "a"], "range": ["#ffff00", "#ff0000"]}, "legend": null}, "size": {"field": "k", "type": "nominal", "scale": {"domain": ["m", "a"], "range": [24, 30]}, "legend": null}}},
  {"data": {"name": "a3"}, "mark": {"type": "rule", "color": "#333", "strokeWidth": 0.8}, "encoding": {"x": {"field": "sx", "type": "quantitative", "scale": {"domain": [0, 86], "nice": false, "zero": false}, "axis": null}, "y": {"field": "sy", "type": "quantitative", "scale": {"domain": [-2, 3], "nice": false}, "axis": {"values": [-2, -1, 0, 1, 2, 3]}, "title": "Log2(Copy Number Ratio)"}, "x2": {"field": "ex"}, "y2": {"field": "ey"}}},
  {"data": {"name": "a3"}, "transform": [{"calculate": "atan2((datum.ex-datum.sx)*3.78,(datum.ey-datum.sy)*19.2)*180/PI", "as": "ang"}], "mark": {"type": "point", "shape": "triangle-up", "filled": true, "color": "#333", "size": 10, "opacity": 1}, "encoding": {"x": {"field": "ex", "type": "quantitative", "scale": {"domain": [0, 86], "nice": false, "zero": false}, "axis": null}, "y": {"field": "ey", "type": "quantitative", "scale": {"domain": [-2, 3], "nice": false}, "axis": {"values": [-2, -1, 0, 1, 2, 3]}, "title": "Log2(Copy Number Ratio)"}, "angle": {"field": "ang", "type": "quantitative", "scale": null}}},
  {"data": {"name": "a3"}, "transform": [{"calculate": "(9.25+1.25*length(datum.t))/3.78", "as": "hw"}, {"calculate": "datum.bx-datum.hw", "as": "x1"}, {"calculate": "datum.bx+datum.hw", "as": "x2"}, {"calculate": "datum.by-0.25", "as": "y1"}, {"calculate": "datum.by+0.25", "as": "y2"}], "mark": {"type": "rect", "fill": "#70AD47", "stroke": "#3E6B24", "strokeWidth": 0.7}, "encoding": {"x": {"field": "x1", "type": "quantitative", "scale": {"domain": [0, 86], "nice": false, "zero": false}, "axis": null}, "x2": {"field": "x2"}, "y": {"field": "y1", "type": "quantitative", "scale": {"domain": [-2, 3], "nice": false}, "axis": {"values": [-2, -1, 0, 1, 2, 3]}, "title": "Log2(Copy Number Ratio)"}, "y2": {"field": "y2"}}},
  {"data": {"name": "a3"}, "mark": {"type": "text", "font": "Liberation Sans", "fontSize": 5, "fontStyle": "italic", "fontWeight": "bold", "color": "#111"}, "encoding": {"x": {"field": "bx", "type": "quantitative", "scale": {"domain": [0, 86], "nice": false, "zero": false}, "axis": null}, "y": {"field": "by", "type": "quantitative", "scale": {"domain": [-2, 3], "nice": false}, "axis": {"values": [-2, -1, 0, 1, 2, 3]}, "title": "Log2(Copy Number Ratio)"}, "text": {"field": "t"}}}
 ]},
 {"title": "Patient #4 [Carcinoma (HN-18)]", "width": 325, "height": 96, "layer": [
  {"data": {"name": "p4"}, "mark": {"type": "rule", "color": "black", "strokeWidth": 1.3}, "encoding": {"y": {"datum": 0, "type": "quantitative", "scale": {"domain": [-2, 3], "nice": false}, "axis": {"values": [-2, -1, 0, 1, 2, 3]}, "title": "Log2(Copy Number Ratio)"}}},
  {"data": {"name": "p4"}, "transform": [{"filter": "datum.lo != null"}], "mark": {"type": "rule", "color": "#777", "strokeWidth": 1}, "encoding": {"x": {"field": "i", "type": "quantitative", "scale": {"domain": [0, 86], "nice": false, "zero": false}, "axis": null}, "y": {"field": "lo", "type": "quantitative", "scale": {"domain": [-2, 3], "nice": false}, "axis": {"values": [-2, -1, 0, 1, 2, 3]}, "title": "Log2(Copy Number Ratio)"}, "y2": {"field": "hi"}}},
  {"data": {"name": "p4"}, "transform": [{"filter": "datum.lo != null"}, {"fold": ["lo", "hi"], "as": ["end", "ev"]}], "mark": {"type": "tick", "orient": "horizontal", "color": "#777", "thickness": 1, "size": 4}, "encoding": {"x": {"field": "i", "type": "quantitative", "scale": {"domain": [0, 86], "nice": false, "zero": false}, "axis": null}, "y": {"field": "ev", "type": "quantitative", "scale": {"domain": [-2, 3], "nice": false}, "axis": {"values": [-2, -1, 0, 1, 2, 3]}, "title": "Log2(Copy Number Ratio)"}}},
  {"data": {"name": "p4"}, "transform": [{"filter": "!datum.k"}], "mark": {"type": "circle", "fill": "white", "stroke": "#444", "strokeWidth": 0.8, "size": 22, "opacity": 1}, "encoding": {"x": {"field": "i", "type": "quantitative", "scale": {"domain": [0, 86], "nice": false, "zero": false}, "axis": null}, "y": {"field": "v", "type": "quantitative", "scale": {"domain": [-2, 3], "nice": false}, "axis": {"values": [-2, -1, 0, 1, 2, 3]}, "title": "Log2(Copy Number Ratio)"}}},
  {"data": {"name": "p4"}, "transform": [{"filter": "datum.k"}], "mark": {"type": "circle", "stroke": "#333", "strokeWidth": 0.8, "opacity": 1}, "encoding": {"x": {"field": "i", "type": "quantitative", "scale": {"domain": [0, 86], "nice": false, "zero": false}, "axis": null}, "y": {"field": "v", "type": "quantitative", "scale": {"domain": [-2, 3], "nice": false}, "axis": {"values": [-2, -1, 0, 1, 2, 3]}, "title": "Log2(Copy Number Ratio)"}, "fill": {"field": "k", "type": "nominal", "scale": {"domain": ["m", "a"], "range": ["#ffff00", "#ff0000"]}, "legend": null}, "size": {"field": "k", "type": "nominal", "scale": {"domain": ["m", "a"], "range": [24, 30]}, "legend": null}}},
  {"data": {"name": "a4"}, "mark": {"type": "rule", "color": "#333", "strokeWidth": 0.8}, "encoding": {"x": {"field": "sx", "type": "quantitative", "scale": {"domain": [0, 86], "nice": false, "zero": false}, "axis": null}, "y": {"field": "sy", "type": "quantitative", "scale": {"domain": [-2, 3], "nice": false}, "axis": {"values": [-2, -1, 0, 1, 2, 3]}, "title": "Log2(Copy Number Ratio)"}, "x2": {"field": "ex"}, "y2": {"field": "ey"}}},
  {"data": {"name": "a4"}, "transform": [{"calculate": "atan2((datum.ex-datum.sx)*3.78,(datum.ey-datum.sy)*19.2)*180/PI", "as": "ang"}], "mark": {"type": "point", "shape": "triangle-up", "filled": true, "color": "#333", "size": 10, "opacity": 1}, "encoding": {"x": {"field": "ex", "type": "quantitative", "scale": {"domain": [0, 86], "nice": false, "zero": false}, "axis": null}, "y": {"field": "ey", "type": "quantitative", "scale": {"domain": [-2, 3], "nice": false}, "axis": {"values": [-2, -1, 0, 1, 2, 3]}, "title": "Log2(Copy Number Ratio)"}, "angle": {"field": "ang", "type": "quantitative", "scale": null}}},
  {"data": {"name": "a4"}, "transform": [{"calculate": "(9.25+1.25*length(datum.t))/3.78", "as": "hw"}, {"calculate": "datum.bx-datum.hw", "as": "x1"}, {"calculate": "datum.bx+datum.hw", "as": "x2"}, {"calculate": "datum.by-0.25", "as": "y1"}, {"calculate": "datum.by+0.25", "as": "y2"}], "mark": {"type": "rect", "fill": "#70AD47", "stroke": "#3E6B24", "strokeWidth": 0.7}, "encoding": {"x": {"field": "x1", "type": "quantitative", "scale": {"domain": [0, 86], "nice": false, "zero": false}, "axis": null}, "x2": {"field": "x2"}, "y": {"field": "y1", "type": "quantitative", "scale": {"domain": [-2, 3], "nice": false}, "axis": {"values": [-2, -1, 0, 1, 2, 3]}, "title": "Log2(Copy Number Ratio)"}, "y2": {"field": "y2"}}},
  {"data": {"name": "a4"}, "mark": {"type": "text", "font": "Liberation Sans", "fontSize": 5, "fontStyle": "italic", "fontWeight": "bold", "color": "#111"}, "encoding": {"x": {"field": "bx", "type": "quantitative", "scale": {"domain": [0, 86], "nice": false, "zero": false}, "axis": null}, "y": {"field": "by", "type": "quantitative", "scale": {"domain": [-2, 3], "nice": false}, "axis": {"values": [-2, -1, 0, 1, 2, 3]}, "title": "Log2(Copy Number Ratio)"}, "text": {"field": "t"}}}
 ]}
], "spacing": 23},
{"data": {"name": "sep"}, "width": 720, "height": 1, "mark": {"type": "rule", "color": "#888", "strokeWidth": 2}, "encoding": {"y": {"field": "z", "type": "quantitative", "scale": {"domain": [-1, 1]}, "axis": null}}},
{"hconcat": [
 {"title": "Patient #9 [Papilloma (HN-58)]", "width": 325, "height": 96, "layer": [
  {"data": {"name": "p5"}, "mark": {"type": "rule", "color": "black", "strokeWidth": 1.3}, "encoding": {"y": {"datum": 0, "type": "quantitative", "scale": {"domain": [-2, 3], "nice": false}, "axis": {"values": [-2, -1, 0, 1, 2, 3]}, "title": "Log2(Copy Number Ratio)"}}},
  {"data": {"name": "p5"}, "transform": [{"filter": "!datum.k"}], "mark": {"type": "circle", "fill": "white", "stroke": "#444", "strokeWidth": 0.8, "size": 22, "opacity": 1}, "encoding": {"x": {"field": "i", "type": "quantitative", "scale": {"domain": [0, 86], "nice": false, "zero": false}, "axis": null}, "y": {"field": "v", "type": "quantitative", "scale": {"domain": [-2, 3], "nice": false}, "axis": {"values": [-2, -1, 0, 1, 2, 3]}, "title": "Log2(Copy Number Ratio)"}}},
  {"data": {"name": "p5"}, "transform": [{"filter": "datum.k"}], "mark": {"type": "circle", "stroke": "#333", "strokeWidth": 0.8, "opacity": 1}, "encoding": {"x": {"field": "i", "type": "quantitative", "scale": {"domain": [0, 86], "nice": false, "zero": false}, "axis": null}, "y": {"field": "v", "type": "quantitative", "scale": {"domain": [-2, 3], "nice": false}, "axis": {"values": [-2, -1, 0, 1, 2, 3]}, "title": "Log2(Copy Number Ratio)"}, "fill": {"field": "k", "type": "nominal", "scale": {"domain": ["m", "a"], "range": ["#ffff00", "#ff0000"]}, "legend": null}, "size": {"field": "k", "type": "nominal", "scale": {"domain": ["m", "a"], "range": [24, 30]}, "legend": null}}},
  {"data": {"name": "a5"}, "mark": {"type": "rule", "color": "#333", "strokeWidth": 0.8}, "encoding": {"x": {"field": "sx", "type": "quantitative", "scale": {"domain": [0, 86], "nice": false, "zero": false}, "axis": null}, "y": {"field": "sy", "type": "quantitative", "scale": {"domain": [-2, 3], "nice": false}, "axis": {"values": [-2, -1, 0, 1, 2, 3]}, "title": "Log2(Copy Number Ratio)"}, "x2": {"field": "ex"}, "y2": {"field": "ey"}}},
  {"data": {"name": "a5"}, "transform": [{"calculate": "atan2((datum.ex-datum.sx)*3.78,(datum.ey-datum.sy)*19.2)*180/PI", "as": "ang"}], "mark": {"type": "point", "shape": "triangle-up", "filled": true, "color": "#333", "size": 10, "opacity": 1}, "encoding": {"x": {"field": "ex", "type": "quantitative", "scale": {"domain": [0, 86], "nice": false, "zero": false}, "axis": null}, "y": {"field": "ey", "type": "quantitative", "scale": {"domain": [-2, 3], "nice": false}, "axis": {"values": [-2, -1, 0, 1, 2, 3]}, "title": "Log2(Copy Number Ratio)"}, "angle": {"field": "ang", "type": "quantitative", "scale": null}}},
  {"data": {"name": "a5"}, "transform": [{"calculate": "(9.25+1.25*length(datum.t))/3.78", "as": "hw"}, {"calculate": "datum.bx-datum.hw", "as": "x1"}, {"calculate": "datum.bx+datum.hw", "as": "x2"}, {"calculate": "datum.by-0.25", "as": "y1"}, {"calculate": "datum.by+0.25", "as": "y2"}], "mark": {"type": "rect", "fill": "#70AD47", "stroke": "#3E6B24", "strokeWidth": 0.7}, "encoding": {"x": {"field": "x1", "type": "quantitative", "scale": {"domain": [0, 86], "nice": false, "zero": false}, "axis": null}, "x2": {"field": "x2"}, "y": {"field": "y1", "type": "quantitative", "scale": {"domain": [-2, 3], "nice": false}, "axis": {"values": [-2, -1, 0, 1, 2, 3]}, "title": "Log2(Copy Number Ratio)"}, "y2": {"field": "y2"}}},
  {"data": {"name": "a5"}, "mark": {"type": "text", "font": "Liberation Sans", "fontSize": 5, "fontStyle": "italic", "fontWeight": "bold", "color": "#111"}, "encoding": {"x": {"field": "bx", "type": "quantitative", "scale": {"domain": [0, 86], "nice": false, "zero": false}, "axis": null}, "y": {"field": "by", "type": "quantitative", "scale": {"domain": [-2, 3], "nice": false}, "axis": {"values": [-2, -1, 0, 1, 2, 3]}, "title": "Log2(Copy Number Ratio)"}, "text": {"field": "t"}}}
 ]},
 {"title": "Patient #9 [Carcinoma (HN-59)]", "width": 325, "height": 96, "layer": [
  {"data": {"name": "p6"}, "mark": {"type": "rule", "color": "black", "strokeWidth": 1.3}, "encoding": {"y": {"datum": 0, "type": "quantitative", "scale": {"domain": [-2, 3], "nice": false}, "axis": {"values": [-2, -1, 0, 1, 2, 3]}, "title": "Log2(Copy Number Ratio)"}}},
  {"data": {"name": "p6"}, "transform": [{"filter": "datum.lo != null"}], "mark": {"type": "rule", "color": "#777", "strokeWidth": 1}, "encoding": {"x": {"field": "i", "type": "quantitative", "scale": {"domain": [0, 86], "nice": false, "zero": false}, "axis": null}, "y": {"field": "lo", "type": "quantitative", "scale": {"domain": [-2, 3], "nice": false}, "axis": {"values": [-2, -1, 0, 1, 2, 3]}, "title": "Log2(Copy Number Ratio)"}, "y2": {"field": "hi"}}},
  {"data": {"name": "p6"}, "transform": [{"filter": "datum.lo != null"}, {"fold": ["lo", "hi"], "as": ["end", "ev"]}], "mark": {"type": "tick", "orient": "horizontal", "color": "#777", "thickness": 1, "size": 4}, "encoding": {"x": {"field": "i", "type": "quantitative", "scale": {"domain": [0, 86], "nice": false, "zero": false}, "axis": null}, "y": {"field": "ev", "type": "quantitative", "scale": {"domain": [-2, 3], "nice": false}, "axis": {"values": [-2, -1, 0, 1, 2, 3]}, "title": "Log2(Copy Number Ratio)"}}},
  {"data": {"name": "p6"}, "transform": [{"filter": "!datum.k"}], "mark": {"type": "circle", "fill": "white", "stroke": "#444", "strokeWidth": 0.8, "size": 22, "opacity": 1}, "encoding": {"x": {"field": "i", "type": "quantitative", "scale": {"domain": [0, 86], "nice": false, "zero": false}, "axis": null}, "y": {"field": "v", "type": "quantitative", "scale": {"domain": [-2, 3], "nice": false}, "axis": {"values": [-2, -1, 0, 1, 2, 3]}, "title": "Log2(Copy Number Ratio)"}}},
  {"data": {"name": "p6"}, "transform": [{"filter": "datum.k"}], "mark": {"type": "circle", "stroke": "#333", "strokeWidth": 0.8, "opacity": 1}, "encoding": {"x": {"field": "i", "type": "quantitative", "scale": {"domain": [0, 86], "nice": false, "zero": false}, "axis": null}, "y": {"field": "v", "type": "quantitative", "scale": {"domain": [-2, 3], "nice": false}, "axis": {"values": [-2, -1, 0, 1, 2, 3]}, "title": "Log2(Copy Number Ratio)"}, "fill": {"field": "k", "type": "nominal", "scale": {"domain": ["m", "a"], "range": ["#ffff00", "#ff0000"]}, "legend": null}, "size": {"field": "k", "type": "nominal", "scale": {"domain": ["m", "a"], "range": [24, 30]}, "legend": null}}},
  {"data": {"name": "a6"}, "mark": {"type": "rule", "color": "#333", "strokeWidth": 0.8}, "encoding": {"x": {"field": "sx", "type": "quantitative", "scale": {"domain": [0, 86], "nice": false, "zero": false}, "axis": null}, "y": {"field": "sy", "type": "quantitative", "scale": {"domain": [-2, 3], "nice": false}, "axis": {"values": [-2, -1, 0, 1, 2, 3]}, "title": "Log2(Copy Number Ratio)"}, "x2": {"field": "ex"}, "y2": {"field": "ey"}}},
  {"data": {"name": "a6"}, "transform": [{"calculate": "atan2((datum.ex-datum.sx)*3.78,(datum.ey-datum.sy)*19.2)*180/PI", "as": "ang"}], "mark": {"type": "point", "shape": "triangle-up", "filled": true, "color": "#333", "size": 10, "opacity": 1}, "encoding": {"x": {"field": "ex", "type": "quantitative", "scale": {"domain": [0, 86], "nice": false, "zero": false}, "axis": null}, "y": {"field": "ey", "type": "quantitative", "scale": {"domain": [-2, 3], "nice": false}, "axis": {"values": [-2, -1, 0, 1, 2, 3]}, "title": "Log2(Copy Number Ratio)"}, "angle": {"field": "ang", "type": "quantitative", "scale": null}}},
  {"data": {"name": "a6"}, "transform": [{"calculate": "(9.25+1.25*length(datum.t))/3.78", "as": "hw"}, {"calculate": "datum.bx-datum.hw", "as": "x1"}, {"calculate": "datum.bx+datum.hw", "as": "x2"}, {"calculate": "datum.by-0.25", "as": "y1"}, {"calculate": "datum.by+0.25", "as": "y2"}], "mark": {"type": "rect", "fill": "#70AD47", "stroke": "#3E6B24", "strokeWidth": 0.7}, "encoding": {"x": {"field": "x1", "type": "quantitative", "scale": {"domain": [0, 86], "nice": false, "zero": false}, "axis": null}, "x2": {"field": "x2"}, "y": {"field": "y1", "type": "quantitative", "scale": {"domain": [-2, 3], "nice": false}, "axis": {"values": [-2, -1, 0, 1, 2, 3]}, "title": "Log2(Copy Number Ratio)"}, "y2": {"field": "y2"}}},
  {"data": {"name": "a6"}, "mark": {"type": "text", "font": "Liberation Sans", "fontSize": 5, "fontStyle": "italic", "fontWeight": "bold", "color": "#111"}, "encoding": {"x": {"field": "bx", "type": "quantitative", "scale": {"domain": [0, 86], "nice": false, "zero": false}, "axis": null}, "y": {"field": "by", "type": "quantitative", "scale": {"domain": [-2, 3], "nice": false}, "axis": {"values": [-2, -1, 0, 1, 2, 3]}, "title": "Log2(Copy Number Ratio)"}, "text": {"field": "t"}}}
 ]}
], "spacing": 23},
{"data": {"name": "sep"}, "width": 720, "height": 1, "mark": {"type": "rule", "color": "#888", "strokeWidth": 2}, "encoding": {"y": {"field": "z", "type": "quantitative", "scale": {"domain": [-1, 1]}, "axis": null}}},
{"hconcat": [
 {"title": "Patient #10 [Papilloma (HN-63)]", "width": 325, "height": 96, "layer": [
  {"data": {"name": "p7"}, "mark": {"type": "rule", "color": "black", "strokeWidth": 1.3}, "encoding": {"y": {"datum": 0, "type": "quantitative", "scale": {"domain": [-2, 2], "nice": false}, "axis": {"values": [-2, -1, 0, 1, 2]}, "title": "Log2(Copy Number Ratio)"}}},
  {"data": {"name": "p7"}, "transform": [{"filter": "!datum.k"}], "mark": {"type": "circle", "fill": "white", "stroke": "#444", "strokeWidth": 0.8, "size": 22, "opacity": 1}, "encoding": {"x": {"field": "i", "type": "quantitative", "scale": {"domain": [0, 86], "nice": false, "zero": false}, "axis": null}, "y": {"field": "v", "type": "quantitative", "scale": {"domain": [-2, 2], "nice": false}, "axis": {"values": [-2, -1, 0, 1, 2]}, "title": "Log2(Copy Number Ratio)"}}},
  {"data": {"name": "p7"}, "transform": [{"filter": "datum.k"}], "mark": {"type": "circle", "stroke": "#333", "strokeWidth": 0.8, "opacity": 1}, "encoding": {"x": {"field": "i", "type": "quantitative", "scale": {"domain": [0, 86], "nice": false, "zero": false}, "axis": null}, "y": {"field": "v", "type": "quantitative", "scale": {"domain": [-2, 2], "nice": false}, "axis": {"values": [-2, -1, 0, 1, 2]}, "title": "Log2(Copy Number Ratio)"}, "fill": {"field": "k", "type": "nominal", "scale": {"domain": ["m", "a"], "range": ["#ffff00", "#ff0000"]}, "legend": null}, "size": {"field": "k", "type": "nominal", "scale": {"domain": ["m", "a"], "range": [24, 30]}, "legend": null}}},
  {"data": {"name": "a7"}, "mark": {"type": "rule", "color": "#333", "strokeWidth": 0.8}, "encoding": {"x": {"field": "sx", "type": "quantitative", "scale": {"domain": [0, 86], "nice": false, "zero": false}, "axis": null}, "y": {"field": "sy", "type": "quantitative", "scale": {"domain": [-2, 2], "nice": false}, "axis": {"values": [-2, -1, 0, 1, 2]}, "title": "Log2(Copy Number Ratio)"}, "x2": {"field": "ex"}, "y2": {"field": "ey"}}},
  {"data": {"name": "a7"}, "transform": [{"calculate": "atan2((datum.ex-datum.sx)*3.78,(datum.ey-datum.sy)*24)*180/PI", "as": "ang"}], "mark": {"type": "point", "shape": "triangle-up", "filled": true, "color": "#333", "size": 10, "opacity": 1}, "encoding": {"x": {"field": "ex", "type": "quantitative", "scale": {"domain": [0, 86], "nice": false, "zero": false}, "axis": null}, "y": {"field": "ey", "type": "quantitative", "scale": {"domain": [-2, 2], "nice": false}, "axis": {"values": [-2, -1, 0, 1, 2]}, "title": "Log2(Copy Number Ratio)"}, "angle": {"field": "ang", "type": "quantitative", "scale": null}}},
  {"data": {"name": "a7"}, "transform": [{"calculate": "(9.25+1.25*length(datum.t))/3.78", "as": "hw"}, {"calculate": "datum.bx-datum.hw", "as": "x1"}, {"calculate": "datum.bx+datum.hw", "as": "x2"}, {"calculate": "datum.by-0.2", "as": "y1"}, {"calculate": "datum.by+0.2", "as": "y2"}], "mark": {"type": "rect", "fill": "#70AD47", "stroke": "#3E6B24", "strokeWidth": 0.7}, "encoding": {"x": {"field": "x1", "type": "quantitative", "scale": {"domain": [0, 86], "nice": false, "zero": false}, "axis": null}, "x2": {"field": "x2"}, "y": {"field": "y1", "type": "quantitative", "scale": {"domain": [-2, 2], "nice": false}, "axis": {"values": [-2, -1, 0, 1, 2]}, "title": "Log2(Copy Number Ratio)"}, "y2": {"field": "y2"}}},
  {"data": {"name": "a7"}, "mark": {"type": "text", "font": "Liberation Sans", "fontSize": 5, "fontStyle": "italic", "fontWeight": "bold", "color": "#111"}, "encoding": {"x": {"field": "bx", "type": "quantitative", "scale": {"domain": [0, 86], "nice": false, "zero": false}, "axis": null}, "y": {"field": "by", "type": "quantitative", "scale": {"domain": [-2, 2], "nice": false}, "axis": {"values": [-2, -1, 0, 1, 2]}, "title": "Log2(Copy Number Ratio)"}, "text": {"field": "t"}}}
 ]},
 {"title": "Patient #10 [Carcinoma (HN-39)]", "width": 325, "height": 96, "layer": [
  {"data": {"name": "p8"}, "mark": {"type": "rule", "color": "black", "strokeWidth": 1.3}, "encoding": {"y": {"datum": 0, "type": "quantitative", "scale": {"domain": [-2, 2], "nice": false}, "axis": {"values": [-2, -1, 0, 1, 2]}, "title": "Log2(Copy Number Ratio)"}}},
  {"data": {"name": "p8"}, "transform": [{"filter": "datum.lo != null"}], "mark": {"type": "rule", "color": "#777", "strokeWidth": 1}, "encoding": {"x": {"field": "i", "type": "quantitative", "scale": {"domain": [0, 86], "nice": false, "zero": false}, "axis": null}, "y": {"field": "lo", "type": "quantitative", "scale": {"domain": [-2, 2], "nice": false}, "axis": {"values": [-2, -1, 0, 1, 2]}, "title": "Log2(Copy Number Ratio)"}, "y2": {"field": "hi"}}},
  {"data": {"name": "p8"}, "transform": [{"filter": "datum.lo != null"}, {"fold": ["lo", "hi"], "as": ["end", "ev"]}], "mark": {"type": "tick", "orient": "horizontal", "color": "#777", "thickness": 1, "size": 4}, "encoding": {"x": {"field": "i", "type": "quantitative", "scale": {"domain": [0, 86], "nice": false, "zero": false}, "axis": null}, "y": {"field": "ev", "type": "quantitative", "scale": {"domain": [-2, 2], "nice": false}, "axis": {"values": [-2, -1, 0, 1, 2]}, "title": "Log2(Copy Number Ratio)"}}},
  {"data": {"name": "p8"}, "transform": [{"filter": "!datum.k"}], "mark": {"type": "circle", "fill": "white", "stroke": "#444", "strokeWidth": 0.8, "size": 22, "opacity": 1}, "encoding": {"x": {"field": "i", "type": "quantitative", "scale": {"domain": [0, 86], "nice": false, "zero": false}, "axis": null}, "y": {"field": "v", "type": "quantitative", "scale": {"domain": [-2, 2], "nice": false}, "axis": {"values": [-2, -1, 0, 1, 2]}, "title": "Log2(Copy Number Ratio)"}}},
  {"data": {"name": "p8"}, "transform": [{"filter": "datum.k"}], "mark": {"type": "circle", "stroke": "#333", "strokeWidth": 0.8, "opacity": 1}, "encoding": {"x": {"field": "i", "type": "quantitative", "scale": {"domain": [0, 86], "nice": false, "zero": false}, "axis": null}, "y": {"field": "v", "type": "quantitative", "scale": {"domain": [-2, 2], "nice": false}, "axis": {"values": [-2, -1, 0, 1, 2]}, "title": "Log2(Copy Number Ratio)"}, "fill": {"field": "k", "type": "nominal", "scale": {"domain": ["m", "a"], "range": ["#ffff00", "#ff0000"]}, "legend": null}, "size": {"field": "k", "type": "nominal", "scale": {"domain": ["m", "a"], "range": [24, 30]}, "legend": null}}},
  {"data": {"name": "a8"}, "mark": {"type": "rule", "color": "#333", "strokeWidth": 0.8}, "encoding": {"x": {"field": "sx", "type": "quantitative", "scale": {"domain": [0, 86], "nice": false, "zero": false}, "axis": null}, "y": {"field": "sy", "type": "quantitative", "scale": {"domain": [-2, 2], "nice": false}, "axis": {"values": [-2, -1, 0, 1, 2]}, "title": "Log2(Copy Number Ratio)"}, "x2": {"field": "ex"}, "y2": {"field": "ey"}}},
  {"data": {"name": "a8"}, "transform": [{"calculate": "atan2((datum.ex-datum.sx)*3.78,(datum.ey-datum.sy)*24)*180/PI", "as": "ang"}], "mark": {"type": "point", "shape": "triangle-up", "filled": true, "color": "#333", "size": 10, "opacity": 1}, "encoding": {"x": {"field": "ex", "type": "quantitative", "scale": {"domain": [0, 86], "nice": false, "zero": false}, "axis": null}, "y": {"field": "ey", "type": "quantitative", "scale": {"domain": [-2, 2], "nice": false}, "axis": {"values": [-2, -1, 0, 1, 2]}, "title": "Log2(Copy Number Ratio)"}, "angle": {"field": "ang", "type": "quantitative", "scale": null}}},
  {"data": {"name": "a8"}, "transform": [{"calculate": "(9.25+1.25*length(datum.t))/3.78", "as": "hw"}, {"calculate": "datum.bx-datum.hw", "as": "x1"}, {"calculate": "datum.bx+datum.hw", "as": "x2"}, {"calculate": "datum.by-0.2", "as": "y1"}, {"calculate": "datum.by+0.2", "as": "y2"}], "mark": {"type": "rect", "fill": "#70AD47", "stroke": "#3E6B24", "strokeWidth": 0.7}, "encoding": {"x": {"field": "x1", "type": "quantitative", "scale": {"domain": [0, 86], "nice": false, "zero": false}, "axis": null}, "x2": {"field": "x2"}, "y": {"field": "y1", "type": "quantitative", "scale": {"domain": [-2, 2], "nice": false}, "axis": {"values": [-2, -1, 0, 1, 2]}, "title": "Log2(Copy Number Ratio)"}, "y2": {"field": "y2"}}},
  {"data": {"name": "a8"}, "mark": {"type": "text", "font": "Liberation Sans", "fontSize": 5, "fontStyle": "italic", "fontWeight": "bold", "color": "#111"}, "encoding": {"x": {"field": "bx", "type": "quantitative", "scale": {"domain": [0, 86], "nice": false, "zero": false}, "axis": null}, "y": {"field": "by", "type": "quantitative", "scale": {"domain": [-2, 2], "nice": false}, "axis": {"values": [-2, -1, 0, 1, 2]}, "title": "Log2(Copy Number Ratio)"}, "text": {"field": "t"}}}
 ]}
], "spacing": 23}
],
"spacing": 15.5
}
